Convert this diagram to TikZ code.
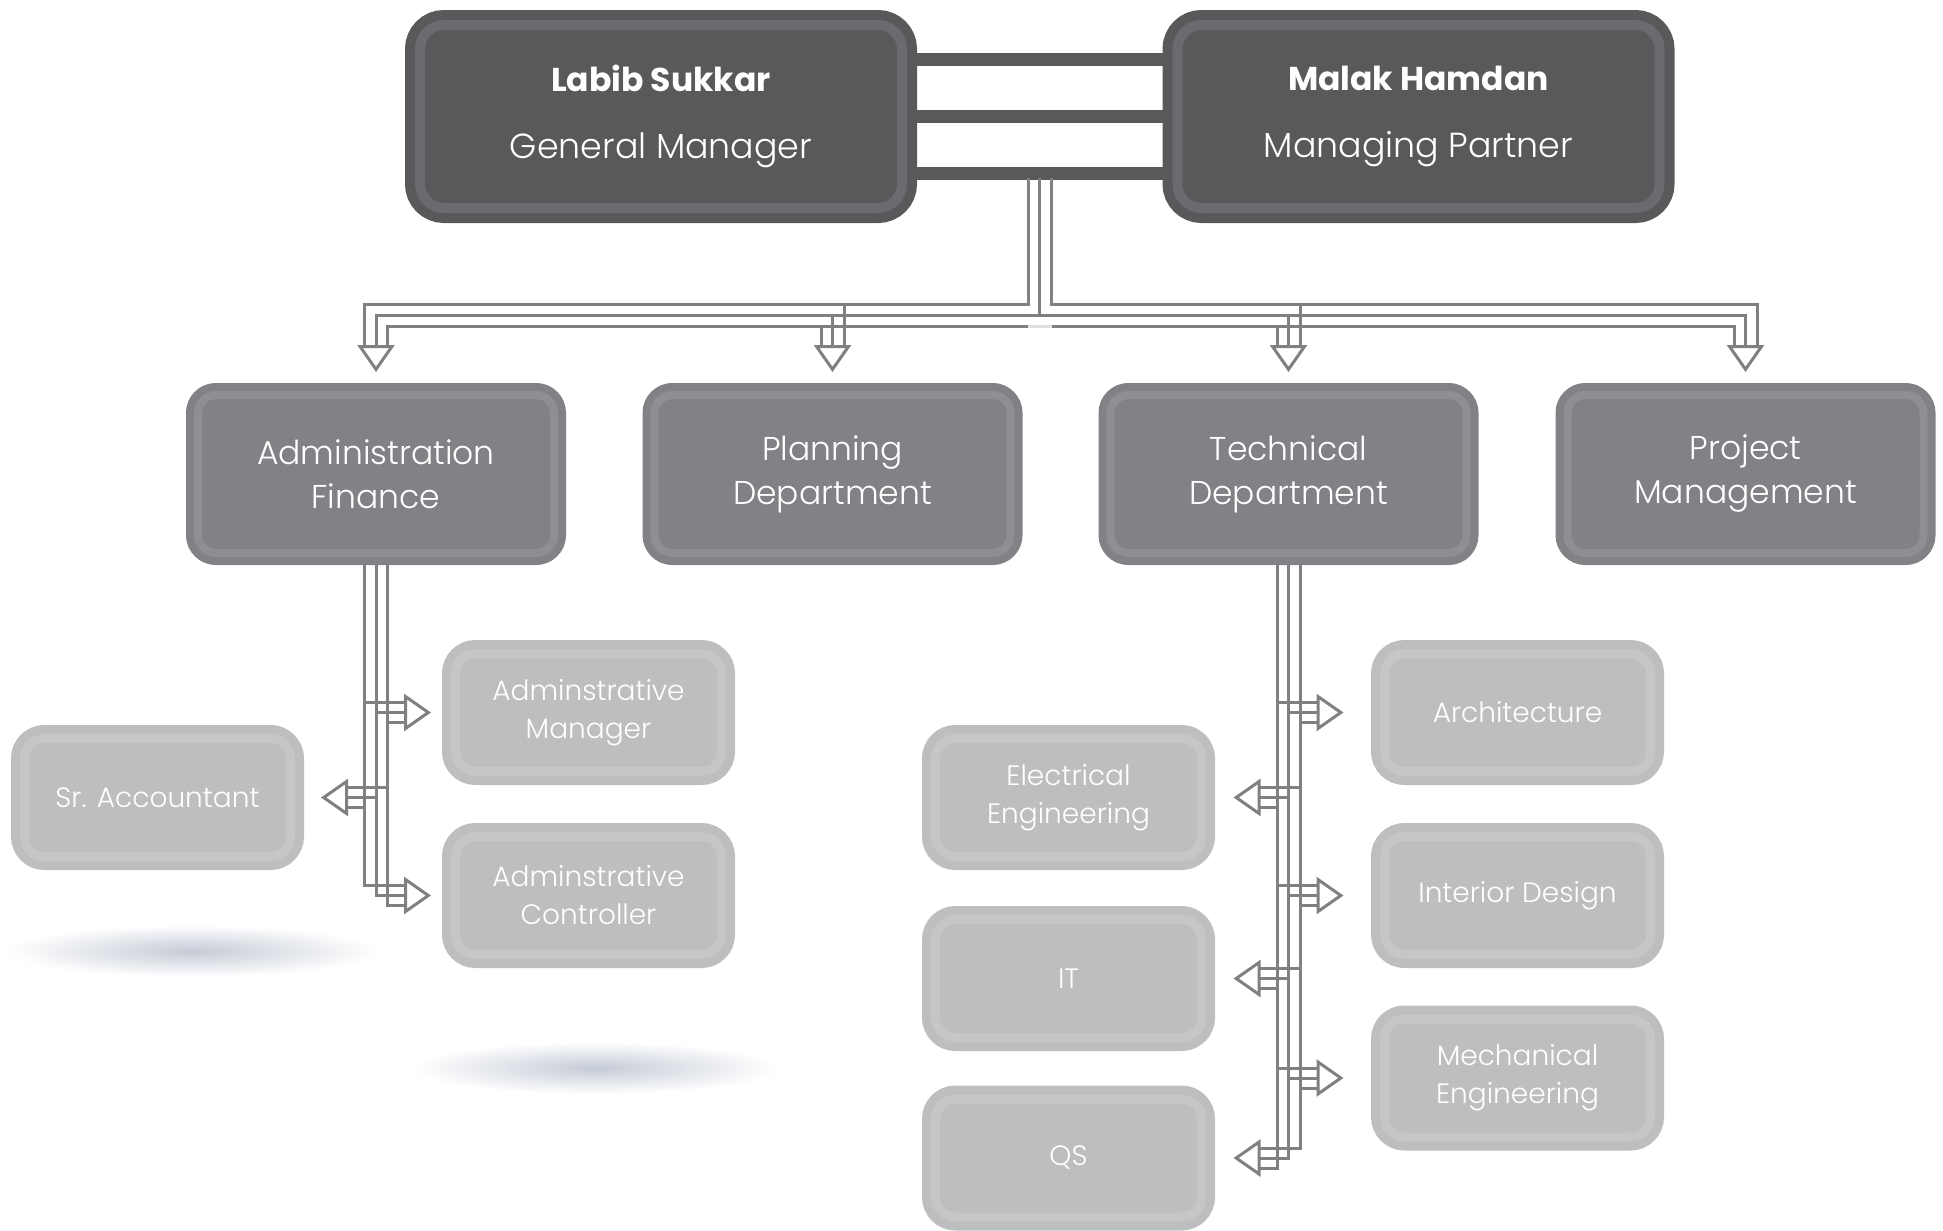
\documentclass[tikz,border=0pt]{standalone}
\usepackage{fontspec}
\setmainfont{Poppins}[UprightFont=* Light, BoldFont=* Bold]
\usepackage{tikz}
\usetikzlibrary{arrows.meta,calc}
\definecolor{BossGray}{HTML}{58595B}
\definecolor{BossRing}{HTML}{6A6B6E}
\definecolor{DeptGray}{HTML}{808285}
\definecolor{DeptRing}{HTML}{8D8F92}
\definecolor{UnitGray}{HTML}{BCBEC0}
\definecolor{UnitRing}{HTML}{C5C6C8}
\definecolor{LinkGray}{HTML}{808080}
\definecolor{ShadowBlue}{HTML}{C5CBD6}

\tikzset{
  boss/.style={fill=BossGray, draw=BossGray, double=BossRing, line width=5pt, double distance=5pt,
    rounded corners=12pt, minimum width=241pt, minimum height=91.5pt, outer sep=7.5pt,
    inner sep=0pt, align=center, text=white, font=\fontsize{17.4}{22.5}\selectfont},
  dept/.style={fill=DeptGray, draw=DeptGray, double=DeptRing, line width=4pt, double distance=4pt,
    rounded corners=9pt, minimum width=178pt, minimum height=79pt, outer sep=6pt,
    inner sep=0pt, align=center, text=white, font=\fontsize{16.5}{22}\selectfont},
  unit/.style={fill=UnitGray, draw=UnitGray, double=UnitRing, line width=4.5pt, double distance=4.5pt,
    rounded corners=10pt, minimum width=133pt, minimum height=59pt, outer sep=6.75pt,
    inner sep=0pt, align=center, text=white, font=\fontsize{14}{19}\selectfont},
  bar/.style={draw=BossGray, line width=6.5pt},
  link/.style={draw=LinkGray, line width=1.5pt, line cap=rect},
  >={Triangle[open, length=13.5pt, width=18.5pt]},
}

\begin{document}
\begin{tikzpicture}[x=0.5pt, y=-0.5pt]
  \useasboundingbox (0,0) rectangle (1943,1231);

  % shadows under the left boxes
  \shade[inner color=ShadowBlue, outer color=white] (192,951) ellipse (185 and 26);
  \shade[inner color=ShadowBlue, outer color=white] (595,1068) ellipse (185 and 26);

  % partners
  \node[boss] (gm) at (661,116.5) {{\bfseries\fontsize{16.5}{22.5}\selectfont Labib Sukkar}\\[11pt]General Manager};
  \node[boss] (mp) at (1418.5,116.5) {{\bfseries\fontsize{16.5}{22.5}\selectfont Malak Hamdan}\\[11pt]Managing Partner};
  \foreach \dy in {-57,0,57}
    \draw[bar] ($(gm.east)+(0,\dy)$) -- ($(mp.west)+(0,\dy)$);

  % departments
  \node[dept] (fin)  at (376,474)    {Administration\\Finance};
  \node[dept] (plan) at (832.5,474)  {Planning\\Department};
  \node[dept] (tech) at (1288.5,474) {Technical\\Department};
  \node[dept] (pm)   at (1745.5,474) {Project\\Management};

  % units
  \node[unit] (acc)  at (157.5,797.5)  {Sr. Accountant};
  \node[unit] (amgr) at (588.5,712.5)  {Adminstrative\\Manager};
  \node[unit] (actl) at (588.5,895.5)  {Adminstrative\\Controller};
  \node[unit] (elec) at (1068.5,797.5) {Electrical\\Engineering};
  \node[unit] (it)   at (1068.5,978.5) {IT};
  \node[unit] (qs)   at (1068.5,1158)  {QS};
  \node[unit] (arch) at (1517.5,712.5) {Architecture};
  \node[unit] (intd) at (1517.5,895.5) {Interior Design};
  \node[unit] (mech) at (1517.5,1078)  {Mechanical\\Engineering};

  % bus from the partners
  \coordinate (hub) at ($(gm.east)!.5!(mp.west)+(0,63)$);
  \draw[link] ($(hub)+(-11.5,0)$) |- ($(fin.north)+(-11.5,-79)$) -- ($(fin.north)+(-11.5,-38)$);
  \draw[link] ($(hub)+(11.5,0)$) |- ($(pm.north)+(11.5,-79)$) -- ($(pm.north)+(11.5,-38)$);
  \draw[link] (hub) -- ($(hub |- fin.north)+(0,-67.5)$);
  \draw[link,<->] ($(fin.north)+(0,-11)$) |- ($(pm.north)+(0,-67.5)$) -- ($(pm.north)+(0,-11)$);
  \draw[link] ($(fin.north)+(11.5,-38)$) |- ($(pm.north)+(-11.5,-56.5)$) -- ($(pm.north)+(-11.5,-38)$);
  \draw[draw=white!75!LinkGray, line width=1.5pt] ($(hub |- fin.north)+(-12,-56.5)$) -- ($(hub |- fin.north)+(12,-56.5)$);
  \foreach \n in {plan,tech} {
    \draw[link] ($(\n.north)+(11.5,-79)$) -- ($(\n.north)+(11.5,-38)$);
    \draw[link,->] ($(\n.north)+(0,-67.5)$) -- ($(\n.north)+(0,-11)$);
    \draw[link] ($(\n.north)+(-11.5,-56.5)$) -- ($(\n.north)+(-11.5,-38)$);
  }

  % trunks
  \foreach \k in {-1,0,1} {
    \draw[link] ($(fin.south)+(11.5*\k,0)$) -- ($(fin.south |- actl.west)+(11.5*\k,10*\k)$);
    \draw[link] ($(tech.south)+(11.5*\k,0)$) -- ($(tech.south |- qs.east)+(11.5*\k,-10*\k)$);
  }

  % branches to the right
  \foreach \s/\t in {fin/amgr,fin/actl,tech/arch,tech/intd,tech/mech} {
    \foreach \k in {-1,1}
      \draw[link] ($(\s.south |- \t.west)+(11.5*\k,10*\k)$) -- ($(\s.south |- \t.west)+(28,10*\k)$);
    \draw[link,->] (\s.south |- \t.west) -- ($(\s.south |- \t.west)+(55,0)$);
  }

  % branches to the left
  \foreach \s/\t in {fin/acc,tech/elec,tech/it,tech/qs} {
    \foreach \k in {-1,1}
      \draw[link] ($(\s.south |- \t.east)+(11.5*\k,-10*\k)$) -- ($(\s.south |- \t.east)+(-27,-10*\k)$);
    \draw[link,->] (\s.south |- \t.east) -- ($(\s.south |- \t.east)+(-55,0)$);
  }
\end{tikzpicture}
\end{document}
